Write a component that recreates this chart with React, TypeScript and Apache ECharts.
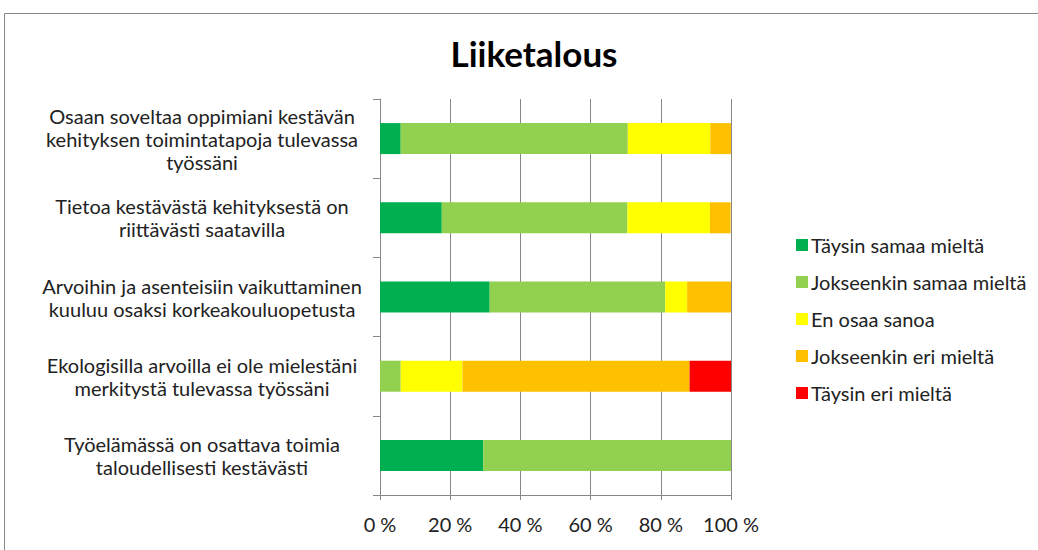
import React, { useEffect, useRef } from "react";
import * as echarts from "echarts";

const categories = [
  "Osaan soveltaa oppimiani kestävän\nkehityksen toimintatapoja tulevassa\ntyössäni",
  "Tietoa kestävästä kehityksestä on\nriittävästi saatavilla",
  "Arvoihin ja asenteisiin vaikuttaminen\nkuuluu osaksi korkeakouluopetusta",
  "Ekologisilla arvoilla ei ole mielestäni\nmerkitystä tulevassa työssäni",
  "Työelämässä on osattava toimia\ntaloudellisesti kestävästi",
];

const seriesNames = [
  "Täysin samaa mieltä",
  "Jokseenkin samaa mieltä",
  "En osaa sanoa",
  "Jokseenkin eri mieltä",
  "Täysin eri mieltä",
];

const taysinSamaa = [5.9, 17.6, 31.25, 0, 29.4];
const jokseenkinSamaa = [64.7, 52.9, 50, 5.9, 70.6];
const enOsaa = [23.5, 23.5, 6.25, 17.6, 0];
const jokseenkinEri = [5.9, 5.9, 12.5, 64.7, 0];
const taysinEri = [0, 0, 0, 11.8, 0];

const xTicks = [0, 20, 40, 60, 80, 100];

const colors = ["#00B050", "#92D050", "#FFFF00", "#FFC000", "#FF0000"];

export default function App() {
  const ref = useRef<HTMLDivElement>(null);
  useEffect(() => {
    if (!ref.current) return;
    const chart = echarts.init(ref.current, null, { renderer: "svg" });
    const font = "Lato, 'Open Sans', sans-serif";
    const values = [taysinSamaa, jokseenkinSamaa, enOsaa, jokseenkinEri, taysinEri];
    chart.setOption({
      animation: false,
      backgroundColor: "#ffffff",
      textStyle: { fontFamily: font },
      title: {
        text: "Liiketalous",
        left: 529,
        textAlign: "center",
        top: 30,
        textStyle: { fontFamily: font, fontWeight: "bold", fontSize: 35, color: "#000" },
      },
      graphic: [
        {
          type: "rect",
          shape: { x: 4.5, y: 13.5, width: 1200, height: 800 },
          style: { fill: "none", stroke: "#888", lineWidth: 1 },
          silent: true,
        },
      ],
      legend: {
        orient: "vertical",
        left: 791,
        top: 230,
        itemWidth: 12,
        itemHeight: 12,
        itemGap: 17,
        icon: "rect",
        data: seriesNames,
        textStyle: { fontFamily: font, fontSize: 20, lineHeight: 17, color: "#222", padding: [0, 0, 0, -2] },
      },
      grid: { left: 380, right: 307, top: 99, bottom: 55, containLabel: false },
      xAxis: {
        type: "value",
        min: 0,
        max: 100,
        interval: 20,
        axisLine: { show: true, lineStyle: { color: "#888" } },
        axisTick: { show: true, length: 5, lineStyle: { color: "#888" } },
        splitLine: { show: true, lineStyle: { color: "#888" } },
        axisLabel: {
          formatter: (v: number) => (xTicks.includes(v) ? `${v} %` : ""),
          margin: 19,
          fontSize: 20,
          color: "#222",
          fontFamily: font,
        },
      },
      yAxis: {
        type: "category",
        inverse: true,
        data: categories,
        axisLine: { show: true, lineStyle: { color: "#888" } },
        axisTick: { show: true, length: 7, lineStyle: { color: "#888" } },
        axisLabel: {
          align: "center",
          margin: 178,
          fontSize: 20,
          lineHeight: 23,
          color: "#222",
          fontFamily: font,
        },
      },
      series: seriesNames.map((name, i) => ({
        name,
        type: "bar",
        stack: "total",
        barWidth: 31,
        itemStyle: { color: colors[i] },
        data: values[i],
      })),
    });
    return () => chart.dispose();
  }, []);
  return (
    <div
      ref={ref}
      style={{ position: "fixed", left: 0, top: 0, width: 1038, height: 550 }}
    />
  );
}
